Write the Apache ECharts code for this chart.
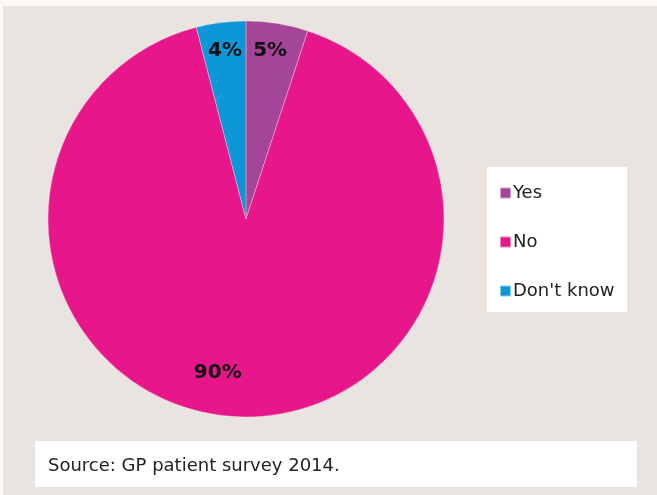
<!DOCTYPE html>
<html>
<head>
<meta charset="utf-8">
<script src="https://cdn.jsdelivr.net/npm/echarts@6/dist/echarts.min.js"></script>
<style>
html,body{margin:0;padding:0;background:#fbfaf8;}
#c{position:absolute;left:0;top:0;width:657px;height:495px;}
</style>
</head>
<body>
<div id="c"></div>
<script>
const categories = ["Yes", "No", "Don't know"];
const values = [5, 90, 4];
const labels = ["5%", "90%", "4%"];
const colors = ["#a5459a", "#e8168b", "#0d97d7"];
const sourceText = "Source: GP patient survey 2014.";
const labelOffsets = [[8, -67], [-25, 52], [-8, -67]];

const chart = echarts.init(document.getElementById('c'), null, {renderer: 'canvas'});
const font = "'DejaVu Sans', sans-serif";
chart.setOption({
  animation: false,
  backgroundColor: 'transparent',
  graphic: [
    {type: 'rect', z: -10, shape: {x: 3, y: 6, width: 660, height: 495}, style: {fill: '#e9e4df'}},
    {type: 'rect', z: -5, shape: {x: 487, y: 167, width: 140, height: 145}, style: {fill: '#ffffff'}},
    {type: 'rect', z: -5, shape: {x: 35, y: 441, width: 602, height: 46}, style: {fill: '#ffffff'}},
    {type: 'text', left: 48, top: 457, style: {text: sourceText, fill: '#222', font: "18px " + font}}
  ],
  legend: {
    orient: 'vertical',
    left: 494,
    top: 178,
    itemWidth: 11,
    itemHeight: 11,
    itemGap: 29,
    icon: 'rect',
    selectedMode: false,
    textStyle: {fontFamily: font, fontSize: 18, lineHeight: 20, color: '#222', padding: [0, 0, 0, -3]},
    data: categories
  },
  series: [{
    type: 'pie',
    center: [246, 219],
    radius: [0, 198],
    startAngle: 90,
    clockwise: true,
    silent: true,
    itemStyle: {borderColor: 'rgba(255,255,255,0.5)', borderWidth: 0.6},
    label: {
      show: true,
      position: 'inside',
      fontFamily: font,
      fontWeight: 'bold',
      fontSize: 20,
      color: '#111'
    },
    labelLine: {show: false},
    data: categories.map((c, i) => ({
      name: c,
      value: values[i],
      itemStyle: {color: colors[i]},
      label: {formatter: labels[i], offset: labelOffsets[i]}
    }))
  }]
});
</script>
</body>
</html>
